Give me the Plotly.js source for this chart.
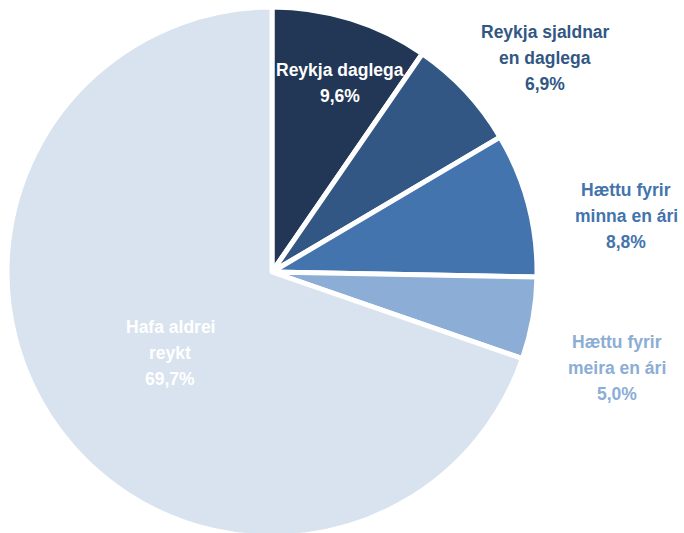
<!DOCTYPE html>
<html>
<head>
<meta charset="utf-8">
<script src="https://cdn.plot.ly/plotly-3.0.1.min.js"></script>
<style>html,body{margin:0;padding:0;background:#fff;overflow:hidden;}#chart{width:684px;height:545px;}</style>
</head>
<body>
<div id="chart"></div>
<script>
// Data
const categories = ["Reykja daglega", "Reykja sjaldnar en daglega", "Hættu fyrir minna en ári", "Hættu fyrir meira en ári", "Hafa aldrei reykt"];
const values = [9.6, 6.9, 8.8, 5.0, 69.7];
const labelLines = [["Reykja daglega"], ["Reykja sjaldnar", "en daglega"], ["Hættu fyrir", "minna en ári"], ["Hættu fyrir", "meira en ári"], ["Hafa aldrei", "reykt"]];
const colors = ["#223756", "#325784", "#4374AE", "#8CADD5", "#D8E3EF"];
const labelColors = ["#FFFFFF", "#325784", "#4374AE", "#8CADD5", "#FFFFFF"];
// label centre positions (pixels)
const labelPos = [[340, 83], [545, 58], [626, 216], [617, 368], [170, 353]];

const W = 684, H = 545, lineH = 26;
const annotations = [];
categories.forEach((c, i) => {
  const lines = labelLines[i].concat([values[i].toFixed(1).replace('.', ',') + '%']);
  const n = lines.length;
  lines.forEach((t, j) => {
    annotations.push({
      xref: 'paper', yref: 'paper',
      x: labelPos[i][0] / W, y: 1 - labelPos[i][1] / H,
      xanchor: 'center', yanchor: 'middle',
      yshift: -(j - (n - 1) / 2) * lineH,
      text: '<b>' + t + '</b>', showarrow: false,
      font: {family: 'Liberation Sans, Arial, sans-serif', size: 17.5, color: labelColors[i]}
    });
  });
});

Plotly.newPlot('chart', [{
  type: 'pie',
  labels: categories,
  values: values,
  sort: false,
  direction: 'clockwise',
  rotation: 0,
  textinfo: 'none',
  hoverinfo: 'none',
  marker: {colors: colors, line: {color: '#FFFFFF', width: 5}},
  domain: {x: [7 / W, 537 / W], y: [1 - 537 / H, 1 - 7 / H]},
  showlegend: false
}], {
  width: W, height: H,
  margin: {l: 0, r: 0, t: 0, b: 0},
  paper_bgcolor: '#FFFFFF',
  annotations: annotations,
  showlegend: false
}, {staticPlot: true});
</script>
</body>
</html>
